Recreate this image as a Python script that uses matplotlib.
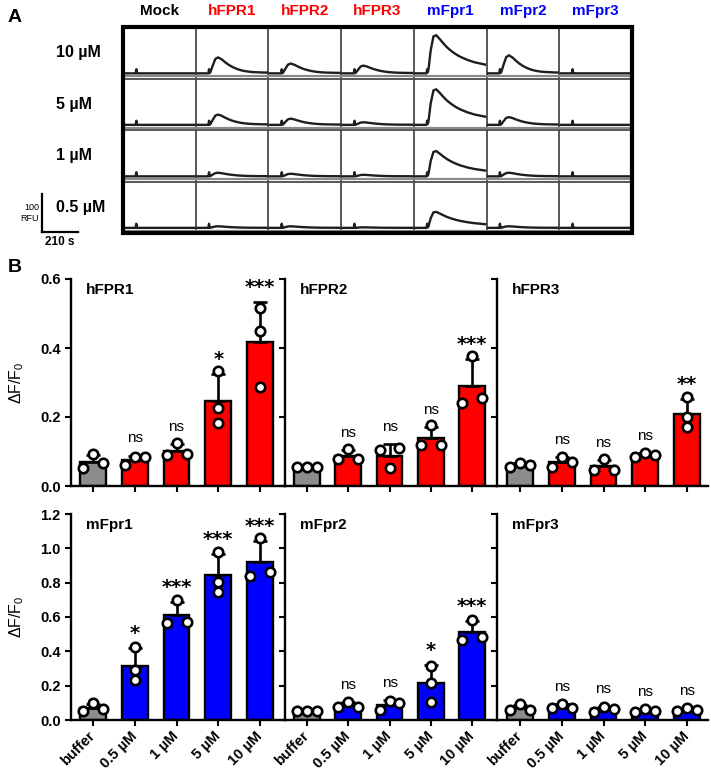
import numpy as np
import matplotlib
matplotlib.use('Agg')
import matplotlib.pyplot as plt
from matplotlib.lines import Line2D
from matplotlib.patches import Rectangle

plt.rcParams['font.family'] = ['Liberation Sans', 'DejaVu Sans']
plt.rcParams['mathtext.fontset'] = 'custom'
plt.rcParams['mathtext.rm'] = 'Liberation Sans'
plt.rcParams['mathtext.it'] = 'Liberation Sans:italic'
plt.rcParams['mathtext.bf'] = 'Liberation Sans:bold'

# ---------------- Panel A data ----------------
receptors = ['Mock', 'hFPR1', 'hFPR2', 'hFPR3', 'mFpr1', 'mFpr2', 'mFpr3']
receptor_colors = ['black', 'red', 'red', 'red', 'blue', 'blue', 'blue']
conc_rows = ['10 µM', '5 µM', '1 µM', '0.5 µM']
# peak amplitude of each calcium trace (fraction of a cell's height)
peak_amp = [
    [0.00, 0.31, 0.19, 0.15, 0.74, 0.35, 0.00],
    [0.00, 0.20, 0.12, 0.05, 0.69, 0.15, 0.00],
    [0.00, 0.07, 0.05, 0.03, 0.49, 0.07, 0.00],
    [0.00, 0.03, 0.03, 0.01, 0.31, 0.03, 0.00],
]
trace_kind = ['transient', 'transient', 'transient', 'transient', 'sustained', 'transient', 'transient']
# normalised time base (fraction of the 210 s window) and response shapes
trace_t = [0.00, 0.10, 0.160, 0.170, 0.180, 0.19, 0.22, 0.26, 0.30, 0.35, 0.40, 0.45,
           0.50, 0.55, 0.60, 0.65, 0.70, 0.75, 0.80, 0.85, 0.90, 0.95, 1.00]
inject_spike = [0, 0, 0, 0.08, 0, 0, 0, 0, 0, 0, 0, 0, 0, 0, 0, 0, 0, 0, 0, 0, 0, 0, 0]
shape_transient = [0, 0, 0, 0, 0.02, 0.08, 0.45, 0.90, 1.00, 0.88, 0.70, 0.54, 0.41, 0.31,
                   0.23, 0.17, 0.13, 0.10, 0.08, 0.07, 0.06, 0.05, 0.05]
shape_sustained = [0, 0, 0, 0, 0.03, 0.12, 0.60, 0.97, 1.00, 0.90, 0.79, 0.69, 0.61, 0.54,
                   0.48, 0.43, 0.39, 0.35, 0.32, 0.29, 0.27, 0.25, 0.23]

# ---------------- Panel B data ----------------
conditions = ['buffer', '0.5 µM', '1 µM', '5 µM', '10 µM']
hFPR1_pts = [[0.051, 0.093, 0.066], [0.061, 0.083, 0.083], [0.090, 0.124, 0.093],
             [0.332, 0.226, 0.182], [0.516, 0.448, 0.288]]
hFPR2_pts = [[0.054, 0.055, 0.054], [0.077, 0.106, 0.077], [0.109, 0.051, 0.105],
             [0.119, 0.177, 0.119], [0.240, 0.378, 0.255]]
hFPR3_pts = [[0.054, 0.066, 0.061], [0.085, 0.054, 0.069], [0.047, 0.078, 0.047],
             [0.085, 0.095, 0.090], [0.257, 0.201, 0.172]]
mFpr1_pts = [[0.054, 0.097, 0.062], [0.427, 0.291, 0.233], [0.700, 0.570, 0.565],
             [0.981, 0.806, 0.748], [1.058, 0.839, 0.864]]
mFpr2_pts = [[0.054, 0.055, 0.054], [0.074, 0.107, 0.078], [0.110, 0.060, 0.100],
             [0.317, 0.214, 0.107], [0.583, 0.466, 0.485]]
mFpr3_pts = [[0.058, 0.093, 0.058], [0.068, 0.093, 0.068], [0.049, 0.078, 0.062],
             [0.049, 0.062, 0.054], [0.052, 0.068, 0.058]]
hFPR1_sig = ['', 'ns', 'ns', '*', '***']
hFPR2_sig = ['', 'ns', 'ns', 'ns', '***']
hFPR3_sig = ['', 'ns', 'ns', 'ns', '**']
mFpr1_sig = ['', '*', '***', '***', '***']
mFpr2_sig = ['', 'ns', 'ns', '*', '***']
mFpr3_sig = ['', 'ns', 'ns', 'ns', 'ns']
top_yticks = [0.0, 0.2, 0.4, 0.6]
bottom_yticks = [0.0, 0.2, 0.4, 0.6, 0.8, 1.0, 1.2]

W, H = 711, 776
fig = plt.figure(figsize=(W / 100, H / 100), dpi=100)


def fx(px):
    return px / W


def fy(py):
    return 1 - py / H


# ================= Panel A =================
axA = fig.add_axes([fx(123), fy(233), fx(632) - fx(123), fy(27) - fy(233)])
ncol, nrow = len(receptors), len(conc_rows)
axA.set_xlim(0, ncol)
axA.set_ylim(0, nrow)
axA.axis('off')
for c in range(1, ncol):
    axA.axvline(c, color='#4a4a4a', lw=1.3, zorder=1)
for r in range(1, nrow):
    axA.axhline(r, color='#4a4a4a', lw=1.3, zorder=1)
t = np.array(trace_t)
spk = np.array(inject_spike)
for r in range(nrow):
    yb = nrow - 1 - r
    for c in range(ncol):
        axA.plot([c, c + 1], [yb + 0.045, yb + 0.045], color='#8a8a8a', lw=1.6, zorder=1)
        shape = np.array(shape_sustained if trace_kind[c] == 'sustained' else shape_transient)
        y = yb + 0.10 + peak_amp[r][c] * shape + spk
        axA.plot(c + 0.02 + 0.96 * t, y, color='#1e1e1e', lw=1.7, zorder=3,
                 solid_joinstyle='round')
axA.add_patch(Rectangle((0, 0), ncol, nrow, fill=False, lw=3, ec='black',
                        transform=axA.transData, clip_on=False, zorder=5))
for c, (name, col) in enumerate(zip(receptors, receptor_colors)):
    fig.text(fx(123 + (c + 0.5) * (632 - 123) / ncol), fy(11), name, color=col,
             fontsize=11, fontweight='bold', ha='center', va='center')
for r, lab in enumerate(conc_rows):
    fig.text(fx(56), fy(27 + (r + 0.5) * (233 - 27) / nrow), lab, fontsize=11.5,
             fontweight='bold', ha='left', va='center')
fig.text(fx(8), fy(18), 'A', fontsize=14, fontweight='bold', ha='left', va='center')
# scale bar
fig.add_artist(Line2D([fx(42), fx(42)], [fy(194), fy(232)], color='black', lw=1.6))
fig.add_artist(Line2D([fx(42), fx(78)], [fy(232), fy(232)], color='black', lw=1.6))
fig.text(fx(39), fy(213), '100\nRFU', fontsize=6.5, ha='right', va='center', linespacing=1.3)
fig.text(fx(60), fy(242), '210 s', fontsize=8.5, fontweight='bold', ha='center', va='center')

# ================= Panel B =================
fig.text(fx(8), fy(268), 'B', fontsize=14, fontweight='bold', ha='left', va='center')

panels = [
    ('hFPR1', hFPR1_pts, hFPR1_sig, 'red', 0, 0),
    ('hFPR2', hFPR2_pts, hFPR2_sig, 'red', 0, 1),
    ('hFPR3', hFPR3_pts, hFPR3_sig, 'red', 0, 2),
    ('mFpr1', mFpr1_pts, mFpr1_sig, 'blue', 1, 0),
    ('mFpr2', mFpr2_pts, mFpr2_sig, 'blue', 1, 1),
    ('mFpr3', mFpr3_pts, mFpr3_sig, 'blue', 1, 2),
]
col_px = [(71, 285), (285, 497), (497, 708)]
col_xlim = [(-0.53, 4.6), (-0.53, 4.6), (-0.55, 4.5)]
row_px = [(279, 486), (514, 720)]
row_ylim = [0.6, 1.2]
row_ticks = [top_yticks, bottom_yticks]


def spread(vals, px_per_unit, thresh=9.5, d=0.24):
    vals = np.asarray(vals)
    order = np.argsort(vals, kind='stable')
    clusters = []
    for idx in order:
        if clusters and (vals[idx] - vals[clusters[-1][-1]]) * px_per_unit < thresh:
            clusters[-1].append(idx)
        else:
            clusters.append([idx])
    offs = np.zeros(len(vals))
    for cl in clusters:
        if len(cl) == 2:
            offs[cl[0]], offs[cl[1]] = -d, d
        elif len(cl) == 3:
            offs[cl[0]], offs[cl[1]], offs[cl[2]] = -d, d, 0
    return offs


for name, pts, sig, color, row, col in panels:
    x0, x1 = col_px[col]
    y0, y1 = row_px[row]
    ax = fig.add_axes([fx(x0), fy(y1), fx(x1) - fx(x0), fy(y0) - fy(y1)])
    ax.set_xlim(*col_xlim[col])
    ax.set_ylim(0, row_ylim[row])
    ppu = (y1 - y0) / row_ylim[row]
    xs = np.arange(len(conditions))
    arr = [np.array(p) for p in pts]
    means = np.array([a.mean() for a in arr])
    sds = np.array([a.std(ddof=1) for a in arr])
    colors = ['#8c8c8c'] + [color] * (len(conditions) - 1)
    ax.bar(xs, means, width=0.62, color=colors, edgecolor='black', linewidth=1.7, zorder=2)
    ax.errorbar(xs, means, yerr=[np.zeros_like(sds), sds], fmt='none', ecolor='black',
                elinewidth=1.9, capsize=4.8, capthick=1.9, zorder=3)
    for i, a in enumerate(arr):
        offs = spread(a, ppu)
        ax.plot(xs[i] + offs, a, 'o', ms=6.8, mfc='white', mec='black', mew=1.9,
                zorder=4, clip_on=False)
    for i, s in enumerate(sig):
        if not s:
            continue
        top = means[i] + sds[i]
        if s == 'ns':
            ax.annotate(s, (xs[i], top), xytext=(0, 9.5), textcoords='offset points',
                        ha='center', va='baseline', fontsize=11, annotation_clip=False)
        else:
            ax.annotate(s, (xs[i], top), xytext=(0, 6.5), textcoords='offset points',
                        ha='center', va='baseline', fontsize=14, fontweight='bold',
                        family='DejaVu Sans', annotation_clip=False)
    ax.text(0.07, 0.945, name, transform=ax.transAxes,
            fontsize=11, fontweight='bold', ha='left', va='center')
    for sp in ['top', 'right']:
        ax.spines[sp].set_visible(False)
    for sp in ['left', 'bottom']:
        ax.spines[sp].set_linewidth(1.7)
    ax.set_yticks(row_ticks[row])
    ax.set_xticks(xs)
    ax.tick_params(axis='both', direction='out', length=4, width=1.5)
    if col == 0:
        ax.set_yticklabels([f'{v:.1f}' for v in row_ticks[row]], fontsize=10.5, fontweight='bold')
        fig.text(fx(17), fy((y0 + y1) / 2), 'ΔF/F$_0$', fontsize=11.5, rotation=90,
                 ha='center', va='center')
    else:
        ax.set_yticklabels([])
    if row == 1:
        ax.set_xticklabels(conditions, rotation=45, ha='right', va='center',
                           rotation_mode='anchor', fontsize=10.5, fontweight='bold')
        ax.tick_params(axis='x', pad=6)
    else:
        ax.set_xticklabels([])

fig.savefig('out.png', dpi=100)
